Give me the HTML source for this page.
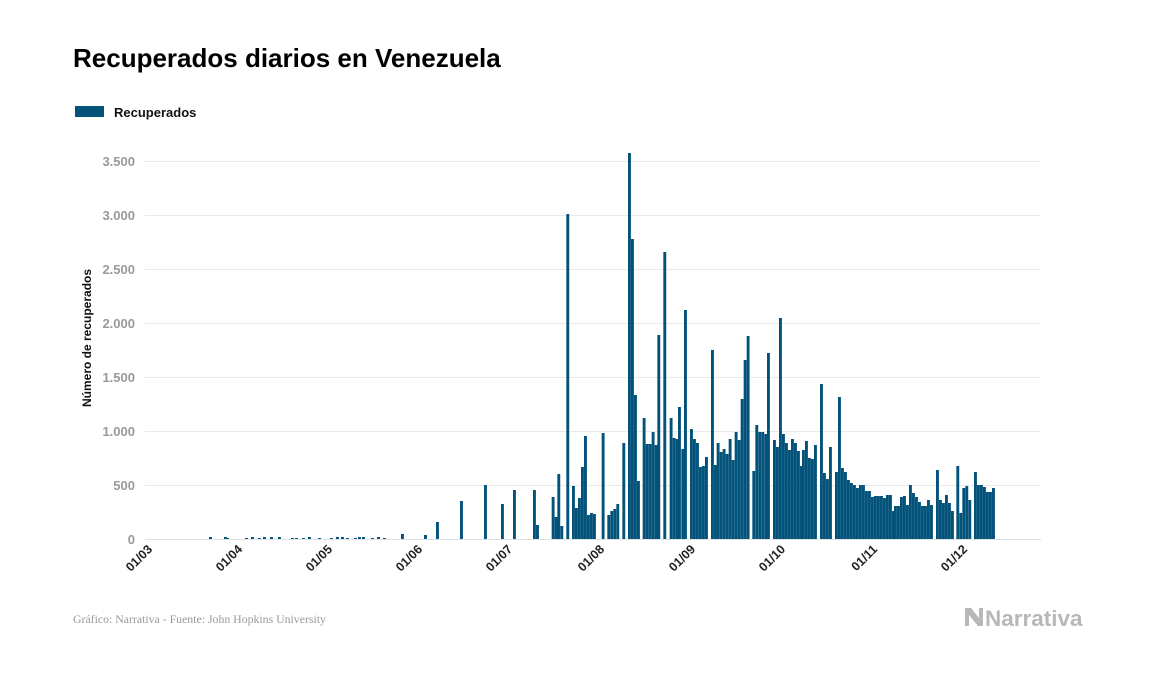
<!DOCTYPE html>
<html><head><meta charset="utf-8"><style>
body{margin:0;width:1157px;height:674px;background:#fff;overflow:hidden;font-family:"Liberation Sans",sans-serif}
</style></head><body>
<svg id="s" width="1157" height="674" xmlns="http://www.w3.org/2000/svg" font-family="Liberation Sans, sans-serif">
<text x="73" y="67" font-size="26" font-weight="bold" fill="#000">Recuperados diarios en Venezuela</text>
<rect x="75" y="106" width="29" height="11" fill="#03527a"/>
<text x="114" y="117" font-size="13" font-weight="bold" fill="#111">Recuperados</text>
<g stroke="#e9e9e9" stroke-width="1">
<line x1="145" x2="1041" y1="161.5" y2="161.5"/><line x1="145" x2="1041" y1="215.5" y2="215.5"/>
<line x1="145" x2="1041" y1="269.5" y2="269.5"/><line x1="145" x2="1041" y1="323.5" y2="323.5"/>
<line x1="145" x2="1041" y1="377.5" y2="377.5"/><line x1="145" x2="1041" y1="431.5" y2="431.5"/>
<line x1="145" x2="1041" y1="485.5" y2="485.5"/>
</g>
<line x1="145" x2="1041" y1="539.5" y2="539.5" stroke="#dfe3e6"/>
<g font-size="13" font-weight="bold" fill="#999" text-anchor="end">
<text x="135" y="166">3.500</text><text x="135" y="220">3.000</text><text x="135" y="274">2.500</text>
<text x="135" y="328">2.000</text><text x="135" y="382">1.500</text><text x="135" y="436">1.000</text>
<text x="135" y="490">500</text><text x="135" y="544">0</text>
</g>
<text transform="translate(91,338) rotate(-90)" font-size="12" font-weight="bold" text-anchor="middle" fill="#111">Número de recuperados</text>
<g id="xl" font-size="12.5" font-weight="bold" fill="#222" text-anchor="end"></g>
<g id="bars" fill="#03527a"></g>
<text x="73" y="623" font-size="11.8" fill="#999" font-family="Liberation Serif, serif">Gráfico: Narrativa - Fuente: John Hopkins University</text>
<g fill="#b8b8b8"><path d="M965 608 l6 0 l8 10 l0 -10 l4 0 l0 18 l-5 0 l-9 -11 l0 11 l-4 0z"/></g>
<text x="985" y="626" font-size="22.5" font-weight="bold" fill="#b8b8b8">Narrativa</text>
</svg>
<script>
var ns="http://www.w3.org/2000/svg",b=document.getElementById('bars');
function r(x,w,y){var e=document.createElementNS(ns,'rect');e.setAttribute('x',x);e.setAttribute('width',w);e.setAttribute('y',y);e.setAttribute('height',539-y);b.appendChild(e);}
[[209,537],[224,537],[226,538],[245,538],[251,537],[258,538],[263,537],[270,537],[278,537],[291,538],[295,538],[302,538],[308,537],[318,538],[330,538],[336,537],[341,537],[346,538],[354,538],[358,537],[362,537],[371,538],[377,537],[383,538],[401,534],[424,535],[436,522],[460,501],[484,485],[501,504],[513,490],[533,490],[536,525]].forEach(function(a){r(a[0],2.9,a[1]);});
var z1=[[35,497],[44,517],[52,474],[61,526],[79,214],[96,486],[105,508],[114,498],[123,467],[132,436],[141,515],[150,513],[159,514],[185,433],[202,515],[211,511],[220,509],[229,504],[247,443],[264,153],[273,239],[282,395],[291,481],[308,418],[317,444],[326,444],[335,432],[344,445],[352,335],[370,252],[389,418],[398,438],[407,439],[414,407],[424,449],[432,310],[450,429],[459,439],[468,443],[477,467],[486,466],[495,457],[513,350],[522,465],[530,443],[539,452],[548,449],[557,454],[566,439],[575,460],[584,432],[593,440],[602,399],[611,360],[620,336],[637,471],[646,425],[655,432],[664,432],[673,434],[681,353],[699,440],[708,447]];
z1.forEach(function(a){r(540+a[0]/3,2.9,a[1]);});
var z2=[[27,318],[36,434],[45,443],[54,450],[63,439],[72,443],[81,451],[90,466],[96,450],[105,441],[114,458],[123,459],[132,445],[150,384],[159,473],[168,479],[177,447],[195,472],[204,397],[213,468],[222,472],[231,480],[240,483],[249,485],[258,488],[267,485],[276,485],[285,491],[294,491],[303,497],[312,496],[321,496],[330,496],[339,498],[348,495],[357,495],[366,511],[372,506],[381,506],[390,497],[399,496],[408,505],[417,485],[426,493],[435,497],[444,502],[453,506],[462,506],[471,500],[480,505],[498,470],[507,500],[516,503],[525,495],[534,503],[543,511],[559,466],[568,513],[577,488],[586,486],[595,500],[612,472],[621,485],[630,485],[639,487],[648,492],[657,492],[666,488]];
z2.forEach(function(a){r(770+a[0]/3,2.9,a[1]);});
var xl=document.getElementById('xl'),labs=["01/03","01/04","01/05","01/06","01/07","01/08","01/09","01/10","01/11","01/12"],xs=[145,235,325,415,505,597,688,778,870,960];
labs.forEach(function(t,i){var e=document.createElementNS(ns,'text');e.setAttribute('transform','translate('+(xs[i]+8)+',550) rotate(-45)');e.textContent=t;xl.appendChild(e);});
</script>
</body></html>
